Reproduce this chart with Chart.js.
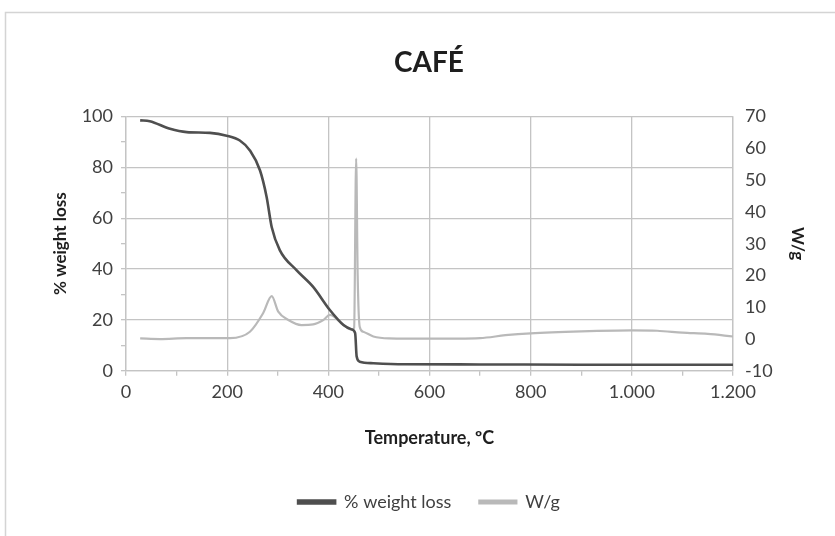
<!DOCTYPE html>
<html>
<head>
<meta charset="utf-8">
<script src="https://cdn.jsdelivr.net/npm/chart.js@4.4.1/dist/chart.umd.min.js"></script>
<style>
  html, body { margin: 0; padding: 0; background: #fff; overflow: hidden; }
  #wrap { position: absolute; left: 0; top: 0; width: 835px; height: 536px; }
</style>
</head>
<body>
<div id="wrap"><canvas id="c" width="835" height="536"></canvas></div>
<script>
// ---- Data ----
const chartTitle = "CAFÉ";
const xTitle = "Temperature, ºC";
const leftTitle = "% weight loss";
const rightTitle = "W/g";

const weightTemp = [28, 47, 87, 120, 166, 199, 225, 245, 265, 278, 288, 304, 337, 370, 403, 430, 446, 453, 456, 462, 489, 550, 700, 900, 1100, 1200];
const weightLoss = [98.5, 98.2, 95.2, 93.9, 93.6, 92.5, 90.6, 86.7, 78.8, 68.4, 56.6, 47.5, 39.6, 33.0, 23.9, 18.0, 16.3, 14.8, 5.6, 3.6, 3.0, 2.6, 2.5, 2.4, 2.4, 2.4];

const heatTemp = [28, 67, 120, 206, 245, 271, 288, 301, 321, 347, 370, 390, 403, 430, 446, 451, 455, 458, 462, 469, 489, 520, 600, 700, 750, 800, 900, 1000, 1050, 1100, 1150, 1200];
const heatFlow = [0.2, 0.0, 0.3, 0.3, 2.3, 8.1, 13.5, 8.6, 6.0, 4.4, 4.6, 6.0, 7.6, 4.4, 2.9, 3.5, 56.8, 20, 3.9, 2.3, 0.8, 0.2, 0.1, 0.3, 1.2, 1.8, 2.4, 2.7, 2.6, 2.0, 1.6, 0.8];

const xTicks = [0, 200, 400, 600, 800, 1000, 1200];
const leftTicks = [0, 20, 40, 60, 80, 100];
const rightTicks = [-10, 0, 10, 20, 30, 40, 50, 60, 70];

// ---- helpers ----
const toPts = (xs, ys) => xs.map((x, i) => ({ x: x, y: ys[i] }));
const fmtThousands = v => v >= 1000 ? Math.floor(v / 1000) + '.' + String(v % 1000).padStart(3, '0') : String(v);

const gridCol = '#c4c4c4';
const tickCol = '#404040';
const titleCol = '#1e1e1e';
const FONT = 'Lato, "Open Sans", sans-serif';

const borderPlugin = {
  id: 'outerBorder',
  beforeDraw(chart) {
    const ctx = chart.ctx;
    ctx.save();
    ctx.fillStyle = '#fff';
    ctx.fillRect(0, 0, chart.width, chart.height);
    ctx.strokeStyle = '#d4d4d4';
    ctx.lineWidth = 1.5;
    ctx.strokeRect(5.5, 12.5, 900, 700);
    ctx.restore();
  }
};

new Chart(document.getElementById('c'), {
  type: 'line',
  data: {
    datasets: [
      {
        label: leftTitle,
        data: toPts(weightTemp, weightLoss),
        yAxisID: 'yL',
        borderColor: '#4f4f4f',
        backgroundColor: '#4f4f4f',
        borderWidth: 2.6,
        pointRadius: 0,
        cubicInterpolationMode: 'monotone'
      },
      {
        label: rightTitle,
        data: toPts(heatTemp, heatFlow),
        yAxisID: 'yR',
        borderColor: '#b9b9b9',
        backgroundColor: '#b9b9b9',
        borderWidth: 2.2,
        pointRadius: 0,
        cubicInterpolationMode: 'monotone'
      }
    ]
  },
  options: {
    responsive: false,
    animation: false,
    events: [],
    layout: { padding: { left: 46, right: 23, top: 18, bottom: 15 } },
    plugins: {
      title: {
        display: true,
        text: chartTitle,
        color: titleCol,
        font: { family: FONT, size: 28, weight: 'bold' },
        padding: { top: 28, bottom: 37 }
      },
      legend: {
        position: 'bottom',
        labels: {
          color: tickCol,
          font: { family: FONT, size: 18 },
          boxWidth: 37,
          boxHeight: 3,
          padding: 28
        }
      },
      tooltip: { enabled: false }
    },
    scales: {
      x: {
        type: 'linear',
        min: 0, max: 1200,
        afterBuildTicks: s => { s.ticks = []; for (let v = 0; v <= 1200; v += 100) s.ticks.push({ value: v }); },
        ticks: {
          autoSkip: false, maxRotation: 0,
          color: tickCol,
          font: { family: FONT, size: 18 },
          padding: 6,
          callback: v => xTicks.includes(v) ? fmtThousands(v) : ''
        },
        grid: {
          color: c => (c.tick && xTicks.includes(c.tick.value)) ? gridCol : 'rgba(0,0,0,0)',
          tickColor: gridCol,
          tickLength: 5,
          lineWidth: 1.3
        },
        border: { color: gridCol, width: 1.3 },
        title: {
          display: true, text: xTitle, color: titleCol,
          font: { family: FONT, size: 18, weight: 'bold' },
          padding: { top: 18, bottom: 16 }
        }
      },
      yL: {
        position: 'left',
        min: 0, max: 100,
        afterBuildTicks: s => { s.ticks = []; for (let v = 0; v <= 100; v += 10) s.ticks.push({ value: v }); },
        afterFit: s => { s.width = 80; },
        ticks: {
          autoSkip: false,
          color: tickCol,
          font: { family: FONT, size: 18 },
          padding: 8,
          callback: v => leftTicks.includes(v) ? String(v) : ''
        },
        grid: {
          color: c => (c.tick && leftTicks.includes(c.tick.value)) ? gridCol : 'rgba(0,0,0,0)',
          tickColor: gridCol,
          tickLength: 5,
          lineWidth: 1.3
        },
        border: { color: gridCol, width: 1.3 },
        title: {
          display: true, text: leftTitle, color: titleCol,
          font: { family: FONT, size: 17, weight: 'bold' },
          padding: { top: 4, bottom: 4 }
        }
      },
      yR: {
        position: 'right',
        min: -10, max: 70,
        afterBuildTicks: s => { s.ticks = rightTicks.map(v => ({ value: v })); },
        afterFit: s => { s.width = 79; },
        ticks: {
          autoSkip: false,
          color: tickCol,
          font: { family: FONT, size: 18 },
          padding: 12,
          callback: v => String(v)
        },
        grid: { drawOnChartArea: false, drawTicks: false },
        border: { color: gridCol, width: 1.3 },
        title: {
          display: true, text: rightTitle, color: titleCol,
          font: { family: FONT, size: 17, weight: 'bold' },
          padding: { top: 4, bottom: 4 }
        }
      }
    }
  },
  plugins: [borderPlugin]
});
</script>
</body>
</html>
